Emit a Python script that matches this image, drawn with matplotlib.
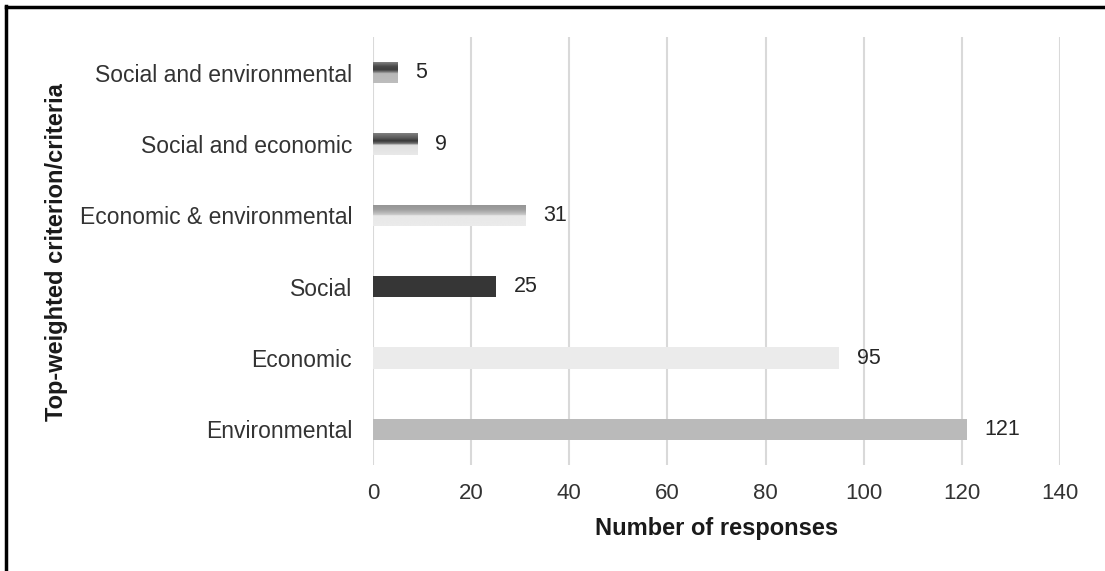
import numpy as np
import matplotlib
matplotlib.use("Agg")
import matplotlib.pyplot as plt
from matplotlib.lines import Line2D

plt.rcParams['font.family'] = ['Liberation Sans', 'DejaVu Sans']

# Categories listed bottom to top
categories = ["Environmental", "Economic", "Social",
              "Economic & environmental", "Social and economic",
              "Social and environmental"]
responses = [121, 95, 25, 31, 9, 5]
x_ticks = [0, 20, 40, 60, 80, 100, 120, 140]

# Flat fills for plain bars
flat_colors = ["#bababa", "#ebebeb", "#363636", None, None, None]

# Vertical shading for the combined-criteria bars: (fraction from top, grey level)
shading = {
    3: [(0.0, 0.58), (0.25, 0.62), (0.5, 0.80), (0.52, 0.91), (1.0, 0.92)],
    4: [(0.0, 0.50), (0.22, 0.35), (0.35, 0.22), (0.48, 0.45), (0.55, 0.88), (1.0, 0.91)],
    5: [(0.0, 0.55), (0.25, 0.28), (0.40, 0.25), (0.52, 0.55), (0.56, 0.72), (1.0, 0.74)],
}

fig = plt.figure(figsize=(11.05, 5.71), dpi=100)
ax = fig.add_axes([0.3376, 0.1856, 0.6217, 0.7496])

ypos = np.arange(len(categories))
bar_h = 0.3
bars = ax.barh(ypos, responses, height=bar_h,
               color=[c if c else "none" for c in flat_colors],
               edgecolor="none", zorder=3)

for i, patch in enumerate(bars):
    if i in shading:
        stops = shading[i]
        pos = np.linspace(0, 1, 64)
        levels = np.interp(pos, [s[0] for s in stops], [s[1] for s in stops])
        img = np.repeat(levels[:, None], 2, axis=1)
        x0, y0 = patch.get_x(), patch.get_y()
        w, h = patch.get_width(), patch.get_height()
        im = ax.imshow(img, cmap="gray", vmin=0, vmax=1, aspect="auto",
                       extent=[x0, x0 + w, y0, y0 + h], origin="upper",
                       interpolation="bilinear", zorder=4)
        im.set_clip_path(patch)

for y, v in zip(ypos, responses):
    ax.annotate(str(v), xy=(v, y), xytext=(13, 0), textcoords="offset points",
                ha="left", va="center", fontsize=15.5, color="#262626", zorder=5)

ax.set_xlim(0, 140)
ax.set_ylim(-0.5, 5.5)
ax.set_xticks(x_ticks)
ax.set_xticklabels([str(t) for t in x_ticks], fontsize=16, color="#333333")
ax.set_yticks(ypos)
ax.set_yticklabels(categories, fontsize=16.5, color="#333333")
ax.tick_params(axis="both", length=0)
ax.tick_params(axis="x", pad=13)
ax.tick_params(axis="y", pad=15)
ax.xaxis.grid(True, color="#d9d9d9", linewidth=1.5, zorder=0)
ax.set_axisbelow(True)
for s in ax.spines.values():
    s.set_visible(False)

ax.set_xlabel("Number of responses", fontsize=17, fontweight="bold",
              color="#1a1a1a", labelpad=9)
fig.text(0.051, 0.559, "Top-weighted criterion/criteria", rotation=90,
         ha="center", va="center", fontsize=17, fontweight="bold", color="#1a1a1a")

# Frame lines along the top and left edges
fig.add_artist(Line2D([0.005, 1.0], [0.988, 0.988], transform=fig.transFigure,
                      color="black", linewidth=2.5))
fig.add_artist(Line2D([0.0055, 0.0055], [0.0, 0.989], transform=fig.transFigure,
                      color="black", linewidth=2.5))

fig.savefig("out.png", dpi=100, facecolor="white")
